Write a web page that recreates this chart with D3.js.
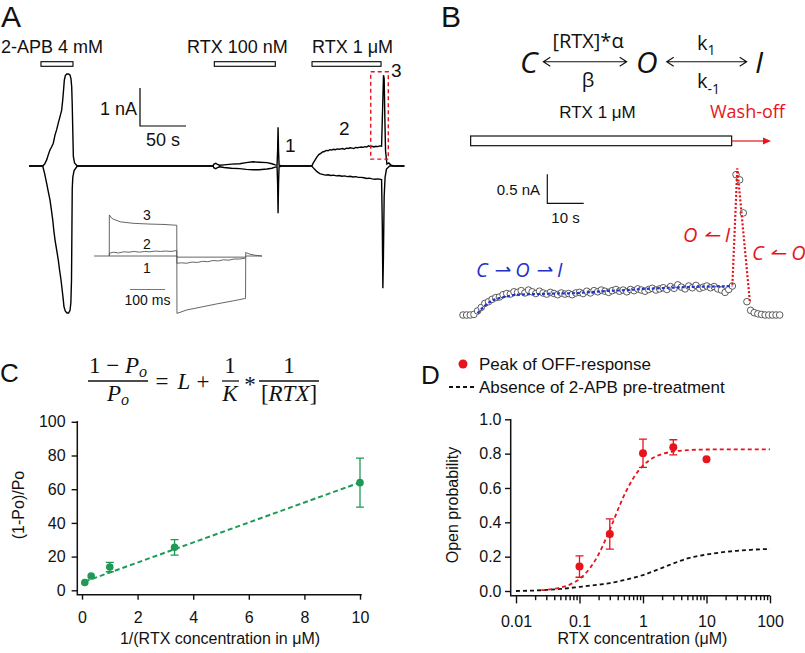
<!DOCTYPE html>
<html><head><meta charset="utf-8">
<script src="https://cdn.jsdelivr.net/npm/d3@7"></script>
<style>
body{margin:0;background:#fff}
svg{display:block}
text{font-family:"Liberation Sans",Arial,sans-serif;fill:#111}
</style>
</head><body>
<svg id="fig" width="805" height="653"></svg>
<script>
// ================= DATA =================
// Panel A: current envelope, [time s, current nA]
const aUpper = [[0,0],[14.9,0],[17,0.05],[19.2,0.16],[21,0.3],[22.8,0.42],[24.5,0.5],[26.4,0.6],[28.3,0.82],[30,0.95],[31.8,1.13],[33.7,1.3],[35.5,1.47],[36.5,1.7],[37.3,1.92],[38.4,2.26],[39.5,2.38],[41,2.42],[43,2.42],[44.6,2.39],[45.6,2.3],[46.4,2.09],[47,1.6],[47.5,1.03],[48.2,0.25],[49.5,0.08],[52.5,0],
 [200,0],[201,0.05],[203,0.07],[205,0.04],[207,0.02],[212,0.03],[220,0.05],[229,0.06],[236,0.09],[243.5,0.11],[250,0.1],[258.7,0.09],[264,0.06],[267.5,0.03],[269.6,0.02],[270.2,0.4],[270.7,1.02],[271.2,0.4],[271.8,0.02],[274,0.01],[276,0],
 [307.3,0],[309,0.08],[311,0.16],[313,0.24],[315,0.3],[317,0.33],[319,0.37],[321,0.38],[323,0.41],[325,0.4],[327,0.43],[329,0.42],[331,0.44],[333,0.43],[335,0.45],[337,0.44],[339,0.45],[341,0.46],[343,0.44],[345,0.47],[347,0.46],[349,0.48],[351,0.47],[353,0.46],[355,0.49],[357,0.48],[359,0.49],[361,0.5],[363,0.49],[365,0.51],[367,0.5],[369,0.53],[371,0.51],[373,0.52],[375,0.5],[377,0.52],[379,0.51],[381,0.53],[383.2,0.52],[384.3,1.5],[385.3,2.39],[386.0,2.3],[386.8,1.2],[387.5,0.4],[389,0.05],[391,0.08],[393,0.03],[396,0],[408,0]];
const aLower = [[0,0],[14.9,0],[17,-0.2],[19.2,-0.46],[21,-0.68],[22.8,-0.89],[24.3,-1.15],[25.8,-1.42],[27,-1.7],[28.3,-1.95],[30,-2.2],[31.8,-2.47],[33.3,-2.75],[34.8,-3.0],[36,-3.25],[37.3,-3.53],[38,-3.7],[39.5,-3.82],[41.3,-3.87],[43,-3.87],[44.6,-3.8],[45.5,-3.6],[46.2,-3.0],[46.6,-1.8],[47,-0.6],[47.6,-0.3],[49,-0.12],[52.5,0],
 [200,0],[201,-0.05],[203,-0.07],[205,-0.04],[207,-0.02],[212,-0.04],[220,-0.06],[229,-0.07],[236,-0.09],[243.5,-0.1],[250,-0.1],[258.7,-0.08],[264,-0.06],[267.5,-0.03],[269.6,-0.02],[270.2,-0.45],[270.7,-1.24],[271.2,-0.45],[271.8,-0.02],[274,-0.01],[276,0],
 [307.3,0],[309,-0.05],[311,-0.1],[313,-0.15],[316,-0.2],[319,-0.22],[322,-0.24],[325,-0.23],[328,-0.25],[331,-0.24],[334,-0.26],[337,-0.25],[340,-0.27],[343,-0.26],[346,-0.28],[349,-0.27],[352,-0.29],[355,-0.28],[358,-0.3],[361,-0.3],[364,-0.31],[367,-0.33],[370,-0.32],[373,-0.34],[376,-0.35],[379,-0.34],[383.2,-0.36],[384.0,-1.6],[384.6,-3.22],[385.2,-2.4],[386.0,-0.8],[387,-0.3],[388.5,-0.08],[392,0],[408,0]];
const aBarLabels = ["2-APB 4 mM","RTX 100 nM","RTX 1 \u03bcM"];
const aBarStart = [13, 201.4, 307.6];
const aBarEnd = [47.8, 267.7, 382.6];
const aTraceLabels = ["1","2","3"];
const aBox = {t0:371.4, t1:390.5, i0:0.18, i1:2.48};

// Panel A inset: [time ms, current nA]
const inset1 = [[0,0],[237,0],[237.5,-0.03],[433,-0.03],[433.5,0],[480,0]];
const inset2 = [[43.7,0],[43.8,0.07],[55,0.1],[70,0.08],[85,0.11],[100,0.1],[115,0.12],[130,0.1],[145,0.12],[160,0.11],[175,0.13],[190,0.12],[205,0.13],[220,0.12],[234,0.14],[236.5,0.14],[237,-0.19],[250,-0.18],[265,-0.19],[280,-0.16],[295,-0.17],[310,-0.14],[325,-0.15],[340,-0.12],[355,-0.13],[370,-0.1],[385,-0.11],[400,-0.08],[415,-0.08],[431,-0.06],[433,-0.06]];
const inset3 = [[43.7,0],[43.8,1.08],[50,1.0],[55,0.97],[75,0.9],[112,0.86],[160,0.84],[200,0.83],[234,0.81],[236.5,0.81],[237,-1.51],[265,-1.42],[303,-1.35],[351,-1.26],[398,-1.18],[431,-1.12],[433,-1.12],[433.5,0.09],[445,0.05],[460,0.02],[480,0]];

// Panel B: OFF-response, current (nA) sampled every 1 s
const bCurrent = [0,0,0,0.01,0.07,0.13,0.2,0.23,0.27,0.3,0.31,0.35,0.37,0.36,0.4,0.39,0.42,0.38,0.43,0.4,
 0.37,0.41,0.38,0.36,0.39,0.37,0.35,0.38,0.36,0.37,0.35,0.38,0.39,0.37,0.41,0.38,0.42,0.4,0.43,0.41,
 0.39,0.42,0.44,0.41,0.43,0.4,0.44,0.42,0.45,0.43,0.41,0.44,0.46,0.43,0.45,0.47,0.44,0.49,0.46,0.52,
 0.48,0.45,0.5,0.47,0.51,0.46,0.48,0.5,0.47,0.49,0.45,0.43,0.39,0.44,0.5,2.42,2.33,1.76,0.23,0.08,
 0.04,0.02,0.01,0,0,0,0,0];
const bBlueFit = [[4,0.03],[5,0.1],[6,0.16],[7,0.21],[8,0.25],[10,0.29],[12,0.32],[15,0.35],[20,0.36],[25,0.37],[30,0.375],[35,0.395],[40,0.415],[45,0.43],[50,0.45],[55,0.465],[60,0.478],[65,0.487],[70,0.493],[74,0.5]];
const bRedFit = [[74,0.52],[75.35,2.53],[78.8,0.23]];
const bBarLabel = "RTX 1 \u03bcM";
const bBarRange = [2.1, 73.8];

// Panel C
const cX = [0.1, 0.33, 1, 3.33, 10];
const cY = [4.6, 8.5, 13.8, 25.5, 63.9];
const cErr = [0, 0, 2.8, 4.6, 14.5];
const cFit = [[0.1,5.2],[10,64]];
const cXTicks = [0,2,4,6,8,10];
const cYTicks = [0,20,40,60,80,100];

// Panel D
const dX = [0.1, 0.3, 1, 3, 10];
const dY = [0.142, 0.332, 0.802, 0.837, 0.767];
const dErr = [0.062, 0.088, 0.082, 0.044, 0];
const dRedFit = [[0.025,0.005],[0.03,0.0075],[0.05,0.02],[0.07,0.037],[0.1,0.07],[0.15,0.139],[0.2,0.214],[0.3,0.357],[0.5,0.554],[0.7,0.656],[1,0.73],[1.5,0.779],[2,0.798],[3,0.812],[5,0.82],[10,0.824],[30,0.825],[100,0.825]];
const dBlackFit = [[0.01,0.0],[0.02,0.003],[0.03,0.006],[0.05,0.012],[0.1,0.024],[0.2,0.037],[0.3,0.046],[0.5,0.063],[1,0.093],[2,0.135],[3,0.16],[5,0.19],[10,0.212],[20,0.228],[30,0.234],[50,0.24],[100,0.245]];
const dXTicks = [0.01,0.1,1,10,100];
const dXTickLabels = ["0.01","0.1","1","10","100"];
const dYTicks = [0,0.2,0.4,0.6,0.8,1.0];
const dLegend = ["Peak of OFF-response","Absence of 2-APB pre-treatment"];

// ================= DRAW =================
const svg = d3.select("#fig");
const RED = "#e8141b", GREEN = "#1f9a55", BLUE = "#2233cc";
function txt(x, y, s, o={}) {
  const t = svg.append("text").attr("x", x).attr("y", y).text(s)
    .attr("font-size", o.size || 16).attr("text-anchor", o.anchor || "start");
  if (o.fill) t.style("fill", o.fill);
  if (o.italic) t.attr("font-style", "italic");
  if (o.family) t.style("font-family", o.family);
  if (o.rotate) t.attr("transform", `rotate(${o.rotate},${x},${y})`);
  return t;
}

// ---------- Panel A ----------
txt(1, 27, "A", {size: 30});
const xA = d3.scaleLinear().domain([0, 408]).range([29, 404.4]);
const yA = d3.scaleLinear().domain([0, 1]).range([166, 128]);
const lineA = d3.line().x(d => xA(d[0])).y(d => yA(d[1]));
const gA = svg.append("g");
gA.append("path").attr("d", lineA(aUpper)).attr("fill", "none").attr("stroke", "#000").attr("stroke-width", 1.4);
gA.append("path").attr("d", lineA(aLower)).attr("fill", "none").attr("stroke", "#000").attr("stroke-width", 1.4);
// application bars
const labelX = [1, 187, 312];
aBarLabels.forEach((l, i) => {
  gA.append("rect").attr("x", xA(aBarStart[i])).attr("y", 61.7)
    .attr("width", xA(aBarEnd[i]) - xA(aBarStart[i])).attr("height", 4.6)
    .attr("fill", "#fff").attr("stroke", "#000").attr("stroke-width", 1.1);
  txt(labelX[i], 53, l, {size: 18});
});
// dashed red box
gA.append("rect").attr("x", xA(aBox.t0)).attr("y", yA(aBox.i1))
  .attr("width", xA(aBox.t1) - xA(aBox.t0)).attr("height", yA(aBox.i0) - yA(aBox.i1))
  .attr("fill", "none").attr("stroke", RED).attr("stroke-width", 1.4).attr("stroke-dasharray", "4,3");
// trace labels
txt(285, 152, aTraceLabels[0], {size: 19});
txt(339, 135, aTraceLabels[1], {size: 19});
txt(391, 77, aTraceLabels[2], {size: 19});
// scale bar
{
  const x0 = 140, y0 = 126;
  const h = yA(0) - yA(1), w = xA(50) - xA(0);
  gA.append("path").attr("d", `M${x0},${y0 - h}V${y0}H${x0 + w}`).attr("fill", "none").attr("stroke", "#000").attr("stroke-width", 1.2);
  txt(137, 115, "1 nA", {size: 18, anchor: "end"});
  txt(x0 + w / 2, 146, "50 s", {size: 18, anchor: "middle"});
}
// inset
{
  const xi = d3.scaleLinear().domain([0, 480]).range([94, 262]);
  const yi = d3.scaleLinear().domain([0, 1]).range([256, 218]);
  const li = d3.line().x(d => xi(d[0])).y(d => yi(d[1]));
  [inset1, inset2, inset3].forEach(tr => {
    gA.append("path").attr("d", li(tr)).attr("fill", "none").attr("stroke", "#555").attr("stroke-width", 0.9);
  });
  txt(147, 220, "3", {size: 14, anchor: "middle"});
  txt(147, 249, "2", {size: 14, anchor: "middle"});
  txt(147, 273, "1", {size: 14, anchor: "middle"});
  const w = xi(100) - xi(0);
  gA.append("line").attr("x1", 130).attr("x2", 130 + w).attr("y1", 289.5).attr("y2", 289.5).attr("stroke", "#777").attr("stroke-width", 1);
  txt(130 + w / 2, 305, "100 ms", {size: 14, anchor: "middle"});
}

// ---------- Panel B ----------
txt(441, 27, "B", {size: 30});
const schemeFont = "'Open Sans','Noto Sans',sans-serif";
txt(520, 73.3, "C", {size: 30, italic: true, family: schemeFont});
txt(636, 73.3, "O", {size: 30, italic: true, family: schemeFont});
txt(755, 73.3, "I", {size: 30, italic: true, family: schemeFont});
function dblArrow(x1, x2, y) {
  svg.append("path").attr("d", `M${x1},${y}H${x2}M${x1 + 7},${y - 4.5}L${x1},${y}L${x1 + 7},${y + 4.5}M${x2 - 7},${y - 4.5}L${x2},${y}L${x2 - 7},${y + 4.5}`)
    .attr("fill", "none").attr("stroke", "#111").attr("stroke-width", 1.1);
}
dblArrow(543.3, 626.7, 61.7);
dblArrow(666.7, 746.7, 61.7);
txt(588, 48, "[RTX]*\u03b1", {size: 20, anchor: "middle", family: schemeFont});
txt(588, 87, "\u03b2", {size: 20, anchor: "middle", family: schemeFont});
{
  const t1 = txt(697, 50, "k", {size: 20, family: schemeFont});
  t1.append("tspan").attr("dy", 5).attr("font-size", 14).text("1");
  const t2 = txt(697, 88, "k", {size: 20, family: schemeFont});
  t2.append("tspan").attr("dy", 6).attr("font-size", 14).text("-1");
}
txt(597.5, 118.3, bBarLabel, {size: 17, anchor: "middle"});
txt(710, 118.3, "Wash-off", {size: 18, fill: RED, family: schemeFont});

const xB = d3.scaleLinear().domain([0, 87]).range([463, 779.7]);
const yB = d3.scaleLinear().domain([0, 1]).range([315, 257]);
// bar
svg.append("rect").attr("x", xB(bBarRange[0]) - 0).attr("y", 136)
  .attr("width", xB(bBarRange[1]) - xB(bBarRange[0])).attr("height", 9.7)
  .attr("fill", "#fff").attr("stroke", "#111").attr("stroke-width", 1.2);
svg.append("line").attr("x1", xB(bBarRange[1])).attr("x2", 763).attr("y1", 141).attr("y2", 141).attr("stroke", RED).attr("stroke-width", 1.2);
svg.append("path").attr("d", "M763,137.5L771,141L763,144.5Z").attr("fill", RED);
// scale bar
{
  const x0 = 547.3, y0 = 203.3;
  const h = yB(0) - yB(0.5), w = xB(10) - xB(0);
  svg.append("path").attr("d", `M${x0},${y0 - h}V${y0}H${x0 + w}`).attr("fill", "none").attr("stroke", "#111").attr("stroke-width", 1.2);
  txt(540, 195, "0.5 nA", {size: 15, anchor: "end"});
  txt(x0 + w / 2, 223.3, "10 s", {size: 15, anchor: "middle"});
}
// circles
svg.append("g").selectAll("circle").data(bCurrent).join("circle")
  .attr("cx", (d, i) => xB(i)).attr("cy", d => yB(d)).attr("r", 3.3)
  .attr("fill", "#fff").attr("stroke", "#333").attr("stroke-width", 0.8);
const lineB = d3.line().x(d => xB(d[0])).y(d => yB(d[1]));
svg.append("path").attr("d", lineB.curve(d3.curveMonotoneX)(bBlueFit)).attr("fill", "none")
  .attr("stroke", BLUE).attr("stroke-width", 2.2).attr("stroke-dasharray", "3,2");
svg.append("path").attr("d", d3.line().x(d => xB(d[0])).y(d => yB(d[1]))(bRedFit)).attr("fill", "none")
  .attr("stroke", RED).attr("stroke-width", 2.2).attr("stroke-dasharray", "2,2");
txt(476, 277, "C \u21c0 O \u21c0 I", {size: 20, italic: true, fill: BLUE, family: schemeFont});
txt(683, 242, "O \u21bc I", {size: 20, italic: true, fill: RED, family: schemeFont});
txt(752, 260, "C \u21bc O", {size: 20, italic: true, fill: RED, family: schemeFont});

// ---------- Panel C ----------
txt(0, 382, "C", {size: 26});
{
  const ser = "'Liberation Serif','DejaVu Serif',serif";
  const n1 = txt(118, 373, "1 \u2212 ", {size: 23, anchor: "middle", family: ser});
  n1.append("tspan").attr("font-style", "italic").text("P");
  n1.append("tspan").attr("font-style", "italic").attr("font-size", 16).attr("dy", 4).text("o");
  svg.append("line").attr("x1", 88).attr("x2", 148).attr("y1", 381).attr("y2", 381).attr("stroke", "#111").attr("stroke-width", 1.3);
  const d1 = txt(118, 401, "", {size: 23, anchor: "middle", family: ser});
  d1.append("tspan").attr("font-style", "italic").text("P");
  d1.append("tspan").attr("font-style", "italic").attr("font-size", 16).attr("dy", 4).text("o");
  txt(162, 389, "=", {size: 23, anchor: "middle", family: ser});
  txt(184, 389, "L", {size: 23, anchor: "middle", family: ser, italic: true});
  txt(203, 389, "+", {size: 23, anchor: "middle", family: ser});
  txt(230, 373, "1", {size: 23, anchor: "middle", family: ser});
  svg.append("line").attr("x1", 222).attr("x2", 239).attr("y1", 381).attr("y2", 381).attr("stroke", "#111").attr("stroke-width", 1.3);
  txt(230, 401, "K", {size: 23, anchor: "middle", family: ser, italic: true});
  txt(250, 392, "*", {size: 23, anchor: "middle", family: ser});
  txt(289, 373, "1", {size: 23, anchor: "middle", family: ser});
  svg.append("line").attr("x1", 259).attr("x2", 319).attr("y1", 381).attr("y2", 381).attr("stroke", "#111").attr("stroke-width", 1.3);
  const d3t = txt(289, 401, "[", {size: 23, anchor: "middle", family: ser});
  d3t.append("tspan").attr("font-style", "italic").text("RTX");
  d3t.append("tspan").text("]");
}
const xC = d3.scaleLinear().domain([0, 10]).range([82, 360]);
const yC = d3.scaleLinear().domain([0, 100]).range([590.3, 421.8]);
function styleAxis(g) {
  g.select(".domain").remove();
  g.selectAll(".tick line").attr("stroke", "#111").attr("stroke-width", 1.4);
  g.selectAll(".tick text").attr("font-size", 16).style("font-family", "'Liberation Sans',Arial,sans-serif").style("fill", "#111");
}
svg.append("g").attr("transform", "translate(0,594.7)")
  .call(d3.axisBottom(xC).tickValues(cXTicks).tickSize(5).tickPadding(11.5).tickFormat(d3.format("d"))).call(styleAxis);
svg.append("g").attr("transform", "translate(77.3,0)")
  .call(d3.axisLeft(yC).tickValues(cYTicks).tickSize(5.7).tickPadding(6).tickFormat(d3.format("d"))).call(styleAxis);
svg.append("path").attr("d", "M77.3,421V594.7H361.7").attr("fill", "none").attr("stroke", "#111").attr("stroke-width", 1.5);
svg.append("path").attr("d", d3.line().x(d => xC(d[0])).y(d => yC(d[1]))(cFit)).attr("fill", "none")
  .attr("stroke", GREEN).attr("stroke-width", 2).attr("stroke-dasharray", "5,3");
cX.forEach((x, i) => {
  if (cErr[i] > 0) {
    const px = xC(x), y1 = yC(cY[i] + cErr[i]), y2 = yC(cY[i] - cErr[i]);
    svg.append("path").attr("d", `M${px},${y1}V${y2}M${px - 4},${y1}H${px + 4}M${px - 4},${y2}H${px + 4}`)
      .attr("fill", "none").attr("stroke", GREEN).attr("stroke-width", 1.3);
  }
  svg.append("circle").attr("cx", xC(x)).attr("cy", yC(cY[i])).attr("r", 3.8).attr("fill", GREEN);
});
txt(24, 505, "(1-Po)/Po", {size: 16, anchor: "middle", rotate: -90});
txt(220, 644, "1/(RTX concentration in \u03bcM)", {size: 16, anchor: "middle"});

// ---------- Panel D ----------
txt(421, 384, "D", {size: 26});
const xD = d3.scaleLog().domain([0.01, 100]).range([516, 770]);
const yD = d3.scaleLinear().domain([0, 1]).range([591, 419.3]);
svg.append("g").attr("transform", "translate(0,595.7)")
  .call(d3.axisBottom(xD).tickValues(dXTicks).tickSize(7.7).tickPadding(12.5).tickFormat((d, i) => dXTickLabels[i])).call(styleAxis);
{
  const minor = [];
  [0.01, 0.1, 1, 10].forEach(dec => { for (let k = 2; k <= 9; k++) minor.push(dec * k); });
  svg.append("g").attr("transform", "translate(0,595.7)")
    .call(d3.axisBottom(xD).tickValues(minor).tickSize(4.5).tickFormat("")).call(styleAxis);
}
svg.append("g").attr("transform", "translate(510.7,0)")
  .call(d3.axisLeft(yD).tickValues(dYTicks).tickSize(5.7).tickPadding(3.5).tickFormat(d3.format(".1f"))).call(styleAxis);
svg.append("path").attr("d", "M510.7,419V595.7H770").attr("fill", "none").attr("stroke", "#111").attr("stroke-width", 1.5);
const lineD = d3.line().x(d => xD(d[0])).y(d => yD(d[1])).curve(d3.curveMonotoneX);
svg.append("path").attr("d", lineD(dBlackFit)).attr("fill", "none").attr("stroke", "#111").attr("stroke-width", 1.8).attr("stroke-dasharray", "4,3");
svg.append("path").attr("d", lineD(dRedFit)).attr("fill", "none").attr("stroke", RED).attr("stroke-width", 1.8).attr("stroke-dasharray", "4,3");
dX.forEach((x, i) => {
  if (dErr[i] > 0) {
    const px = xD(x), y1 = yD(dY[i] + dErr[i]), y2 = yD(dY[i] - dErr[i]);
    svg.append("path").attr("d", `M${px},${y1}V${y2}M${px - 4},${y1}H${px + 4}M${px - 4},${y2}H${px + 4}`)
      .attr("fill", "none").attr("stroke", RED).attr("stroke-width", 1.3);
  }
  svg.append("circle").attr("cx", xD(x)).attr("cy", yD(dY[i])).attr("r", 4).attr("fill", RED);
});
txt(458, 505, "Open probability", {size: 16, anchor: "middle", rotate: -90});
txt(642.5, 644, "RTX concentration (\u03bcM)", {size: 16, anchor: "middle"});
// legend
svg.append("circle").attr("cx", 463).attr("cy", 364).attr("r", 4.5).attr("fill", RED);
txt(479, 370, dLegend[0], {size: 17});
svg.append("line").attr("x1", 449).attr("x2", 474).attr("y1", 387).attr("y2", 387).attr("stroke", "#111").attr("stroke-width", 1.8).attr("stroke-dasharray", "4,3");
txt(479, 393, dLegend[1], {size: 17});
</script>
</body></html>
